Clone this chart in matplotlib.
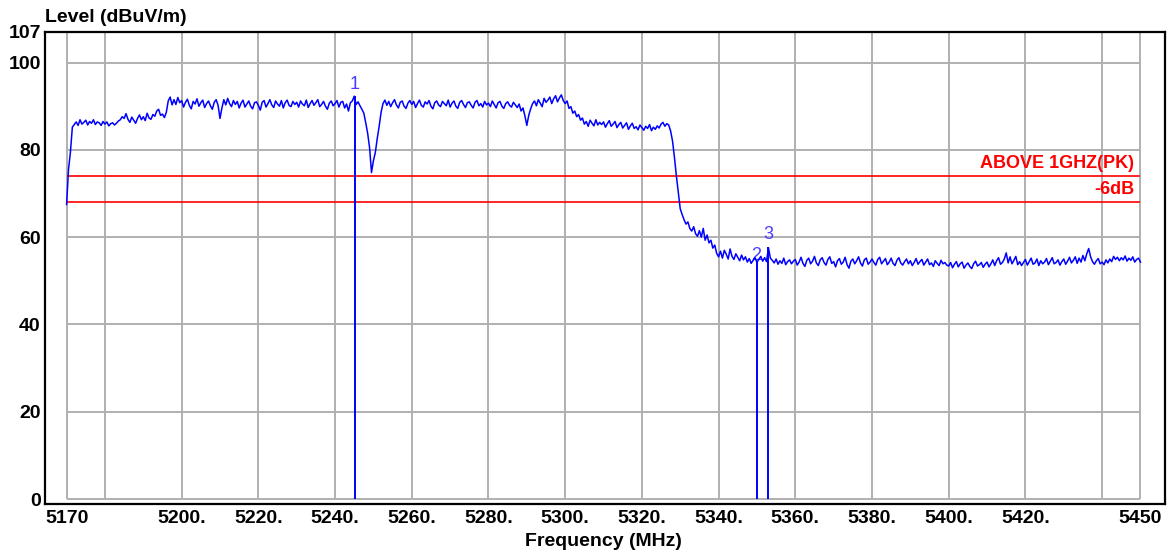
import numpy as np
import matplotlib
matplotlib.use("Agg")
import matplotlib.pyplot as plt

plt.rcParams['font.family'] = ['Liberation Sans', 'DejaVu Sans']

# ---------------- data ----------------
freq_start, freq_step = 5170.0, 0.5
level = [
    # 5170 - 5179.5
    67.5, 75.5, 79.5, 85.2, 85.8, 86.4, 85.6, 86.9, 85.9, 86.3,
    86.8, 85.7, 86.5, 86.1, 86.9, 85.8, 86.4, 86.2, 85.6, 86.5,
    # 5180
    85.9, 86.4, 85.5, 86.0, 86.2, 85.7, 86.1, 86.6, 86.9, 87.6,
    87.2, 88.3, 87.0, 86.3, 87.5, 86.8, 86.1, 87.2, 88.0, 86.9,
    # 5190
    87.6, 86.7, 88.4, 87.3, 87.0, 88.1, 87.7, 88.9, 89.3, 87.9,
    88.2, 87.4, 88.6, 91.2, 92.1, 90.3, 91.5, 90.4, 92.0, 90.8,
    # 5200
    91.3, 89.8, 90.9, 91.6, 90.2, 89.4, 91.1, 90.5, 91.7, 90.0,
    90.8, 91.4, 89.7, 90.6, 91.2, 90.1, 89.3, 90.9, 91.5, 90.2,
    # 5210
    87.2, 89.6, 91.5, 90.3, 91.8, 90.6, 89.9, 91.3, 90.4, 91.1,
    89.6, 90.7, 91.4, 89.8, 90.5, 91.2, 90.0, 89.4, 90.8, 91.0,
    # 5220
    90.2, 89.1, 90.9, 91.3, 89.8, 90.6, 91.5, 90.3, 89.7, 91.2,
    90.5, 90.0, 91.3, 89.6, 90.8, 91.4, 90.2, 89.9, 91.1, 90.4,
    # 5230
    90.9, 89.8, 91.2, 90.5, 90.1, 91.4, 89.7, 90.6, 91.3, 90.2,
    90.8, 91.5, 89.9, 90.4, 91.1, 90.0, 89.3, 90.7, 91.2, 90.1,
    # 5240
    90.6, 91.3, 89.8, 90.9, 91.1, 89.6, 90.5, 88.9, 90.8, 91.2,
    92.3, 90.4, 91.0, 90.1, 89.3, 88.4, 86.2, 83.8, 80.5, 74.8,
    # 5250
    77.5, 79.4, 82.6, 85.4, 88.6, 90.6, 91.4, 90.2, 91.1, 89.9,
    90.8, 91.5, 90.3, 89.6, 90.9, 91.2, 90.0, 89.5, 90.7, 91.3,
    # 5260
    90.4, 91.1, 89.7, 90.6, 91.4, 90.2, 89.8, 91.0, 90.5, 91.3,
    90.0, 89.4, 90.8, 91.2, 90.3, 89.9, 91.1, 90.6, 90.1, 91.4,
    # 5270
    89.8, 90.7, 91.2, 90.0, 89.5, 90.9, 91.3, 90.4, 89.7, 90.8,
    91.0, 90.2, 89.6, 90.9, 91.3, 90.1, 90.6, 89.8, 91.1, 90.3,
    # 5280
    90.7, 89.9, 91.2, 90.4, 89.6, 90.8, 91.1, 90.0, 89.5, 90.6,
    91.0, 90.2, 89.8, 90.9, 90.3, 89.7, 90.5, 88.9, 89.6, 87.8,
    # 5290
    85.6, 87.9, 89.4, 90.6, 91.2, 90.1, 91.5, 90.7, 89.9, 91.8,
    90.9, 91.4, 92.1, 90.6, 91.7, 92.4, 91.0, 91.9, 92.6, 91.3,
    # 5300
    90.6, 91.2, 89.5, 89.9, 88.4, 88.9, 87.6, 88.1, 86.8, 87.3,
    85.9, 86.5, 85.4, 86.8, 86.1, 85.5, 86.9, 85.7, 86.3, 85.8,
    # 5310
    86.4, 85.2, 86.0, 86.7, 85.4, 85.9, 86.5, 85.1, 85.8, 86.3,
    85.0, 85.6, 86.2, 84.7, 85.5, 86.1, 84.9, 85.3, 84.6, 85.7,
    # 5320
    85.1, 84.5, 85.4, 84.9, 85.8, 84.4, 85.2, 84.7, 85.5, 85.0,
    85.9, 86.3, 85.4, 86.0, 85.7, 84.3, 82.0, 78.2, 74.0, 70.2,
    # 5330
    66.5, 65.2, 64.0, 63.0, 63.5, 62.0, 61.4, 62.4, 60.8, 60.2,
    61.5, 60.0, 62.0, 59.3, 60.5, 58.7, 59.3, 57.5, 58.2, 56.3,
    # 5340
    55.5, 56.8, 55.2, 57.0, 56.1, 55.0, 57.3, 55.6, 54.9, 56.2,
    55.4, 54.6, 55.9, 54.8, 55.5, 54.3, 55.1, 54.0, 54.7, 55.3,
    # 5350
    54.2, 54.9, 55.6, 54.5, 55.3, 54.4, 57.6, 55.2, 54.7, 54.1,
    55.0, 53.8, 54.6, 54.0, 55.2, 53.7, 54.4, 54.8, 53.9, 54.5,
    # 5360
    54.9, 53.6, 54.3, 55.4, 54.0, 53.3, 54.7, 55.2, 53.9, 54.5,
    55.6, 54.1, 53.5, 54.8, 55.3, 54.2, 53.6, 54.9, 55.5, 54.0,
    # 5370
    54.4, 53.2, 54.6, 55.1, 53.8, 54.3, 55.4, 53.7, 52.9, 54.5,
    55.0, 53.9, 54.6, 55.5, 54.1, 53.4, 54.8, 55.2, 53.8, 54.3,
    # 5380
    55.0, 54.2, 53.6, 54.9, 55.4, 53.9, 54.5, 55.1, 53.7, 54.3,
    55.2, 54.0, 53.5, 54.7, 55.3, 54.1, 53.6, 54.4, 55.0, 53.9,
    # 5390
    54.6, 53.5, 54.2, 55.1, 53.8, 54.4, 54.9, 53.6, 54.3, 55.0,
    53.7, 54.1, 53.3, 54.6, 54.0, 53.5, 54.7, 53.9, 54.2, 53.6,
    # 5400
    53.4, 54.2, 53.0, 53.8, 54.4, 53.2, 53.9, 54.3, 52.9, 53.6,
    54.1, 53.3, 52.8, 53.9, 54.5, 53.4, 53.7, 54.2, 53.1, 53.8,
    # 5410
    54.3, 53.2, 53.9, 54.8, 53.5, 54.6, 55.3, 53.8, 54.2, 55.0,
    56.4, 54.1, 55.5, 53.9, 54.7, 55.6, 53.7, 54.4, 53.5, 54.2,
    # 5420
    54.9, 53.6, 54.4, 55.2, 53.8, 54.1, 55.0, 53.5, 54.6, 53.9,
    54.3, 55.1, 53.7, 54.5, 55.3, 53.9, 54.2, 54.8, 53.6, 54.4,
    # 5430
    55.0, 53.8, 54.5, 55.4, 54.1, 54.7, 55.5, 54.0, 55.2, 54.3,
    55.8, 54.6, 56.2, 57.4, 55.5, 54.4, 53.8, 54.6, 55.1, 53.9,
    # 5440
    54.3, 53.7, 54.8, 54.1, 55.0, 54.4, 55.6, 54.9, 55.4, 54.6,
    55.3, 54.8, 55.7, 54.5, 55.2, 54.7, 55.5, 54.3, 54.9, 55.2,
    # 5450
    54.3,
]
freq = freq_start + freq_step * np.arange(len(level))

limit_levels = [74, 68]
limit_labels = ["ABOVE 1GHZ(PK)", "-6dB"]

marker_labels = ["1", "2", "3"]
marker_freqs = [5245.1, 5349.9, 5352.9]
marker_levels = [92.4, 54.5, 57.7]

x_ticks = [5170, 5200, 5220, 5240, 5260, 5280, 5300, 5320, 5340, 5360,
           5380, 5400, 5420, 5450]
x_tick_labels = ["5170", "5200.", "5220.", "5240.", "5260.", "5280.", "5300.",
                 "5320.", "5340.", "5360.", "5380.", "5400.", "5420.", "5450"]
x_grid = [5170, 5180, 5200, 5220, 5240, 5260, 5280, 5300, 5320, 5340, 5360,
          5380, 5400, 5420, 5440, 5450]
y_ticks = [0, 20, 40, 60, 80, 100, 107]
y_tick_labels = ["0", "20", "40", "60", "80", "100", "107"]
y_grid = [0, 20, 40, 60, 80, 100]

# ---------------- figure ----------------
W, H = 1168, 552
fig = plt.figure(figsize=(W / 100, H / 100), dpi=100)
ax = fig.add_axes([45 / W, 48 / H, 1120 / W, 472 / H])
ax.set_xlim(5164.37, 5456.4)
ax.set_ylim(-1.12, 107)

grid_c = '#b0b0b0'
ax.vlines(x_grid, 0, 107, color=grid_c, lw=1.4, zorder=1)
ax.hlines(y_grid, 5170, 5450, color=grid_c, lw=1.4, zorder=1)

for lv in limit_levels:
    ax.hlines(lv, 5170, 5450, color='#ff0000', lw=1.2, zorder=2)
ax.text(5448.3, limit_levels[0] + 0.9, limit_labels[0], color='#ff0000',
        fontsize=13, fontweight='bold', ha='right', va='bottom', zorder=3)
ax.text(5448.3, limit_levels[1] + 0.9, limit_labels[1], color='#ff0000',
        fontsize=13, fontweight='bold', ha='right', va='bottom', zorder=3)

# marker labels
offsets = [2, -2, 3]
for lab, f, lv, off in zip(marker_labels, marker_freqs, marker_levels, offsets):
    ax.annotate(lab, (f, lv), xytext=(0, off), textcoords='offset points',
                ha='center', va='bottom', fontsize=13, color='#4b3cff',
                zorder=3)

ax.plot(freq, level, color='#0000ff', lw=1.1, zorder=4)
ax.vlines(marker_freqs, 0, marker_levels, color='#0000ff', lw=1.4, zorder=4)

ax.set_xticks(x_ticks)
ax.set_xticklabels(x_tick_labels, fontsize=14, fontweight='bold')
ax.set_yticks(y_ticks)
ax.set_yticklabels(y_tick_labels, fontsize=14, fontweight='bold')
ax.tick_params(axis='both', length=0)
ax.tick_params(axis='x', pad=4)
ax.tick_params(axis='y', pad=3)

for sp in ax.spines.values():
    sp.set_linewidth(1.6)
    sp.set_color('black')
    sp.set_zorder(5)

fig.text(45 / W, 1 - 18 / H, "Level (dBuV/m)", fontsize=14, fontweight='bold',
         ha='left', va='center')
fig.text(603.5 / W, 1 - 541 / H, "Frequency (MHz)", fontsize=14,
         fontweight='bold', ha='center', va='center')

fig.savefig("out.png", dpi=100)
